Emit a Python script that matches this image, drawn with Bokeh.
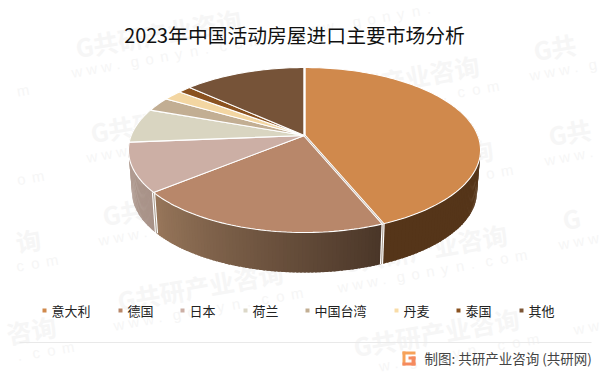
import math
from bokeh.plotting import figure
from bokeh.models import Range1d
from bokeh.core.properties import value
from bokeh.embed import file_html
from bokeh.resources import INLINE

title = "2023年中国活动房屋进口主要市场分析"
categories = ["意大利", "德国", "日本", "荷兰", "中国台湾", "丹麦", "泰国", "其他"]
shares = [43.8, 20.3, 9.6, 6.75, 2.8, 2.05, 1.4, 13.3]
colors = ["#d0894c", "#b8876a", "#ccafa5", "#d9d5c1", "#c2ae93", "#f3d6a2", "#8a5220", "#765338"]
legend_colors = ["#d0894c", "#b8876a", "#ccafa5", "#dcd8c8", "#c2ae93", "#f8dca8", "#8a5220", "#7d5636"]
legend_marker_x = [44, 120, 182, 245, 307, 396, 458, 521]
footer = "制图: 共研产业咨询 (共研网)"
wm_main = "G共研产业咨询"
wm_sub = "www.gonyn.com"
wm_pos = [(-157, 97), (-142, 183), (-128, 267), (-112, 354),
          (75, 47), (90, 132), (102, 215), (117, 300), (122, 394),
          (297, 7), (313, 93), (327, 177), (341, 262), (353, 346),
          (533, 50), (548, 135), (562, 219), (577, 304)]

# perspective projection of the pie's disc
CX, APEX_Y, K, A, B = 304, 135, 0.1758, 79.95, 173.3
FLOOR_Y, FLOOR_F = 177, 0.98

def top(theta):
    s, t = math.sin(theta), -math.cos(theta)
    d = 1 - K * t
    return CX + B * s / d, APEX_Y + A * t / d

def bottom(theta):
    x, y = top(theta)
    return CX + (x - CX) * FLOOR_F, FLOOR_Y + (y - APEX_Y) * FLOOR_F

def lerp(c1, c2, f):
    f = max(0, min(1, f))
    a = [int(c1[i:i+2], 16) for i in (1, 3, 5)]
    b = [int(c2[i:i+2], 16) for i in (1, 3, 5)]
    return "#%02x%02x%02x" % tuple(round(a[i] + (b[i] - a[i]) * f) for i in range(3))

p = figure(width=601, height=374, output_backend="svg", toolbar_location=None,
           x_range=Range1d(0, 601), y_range=Range1d(374, 0), min_border=0,
           x_axis_type=None, y_axis_type=None, outline_line_color=None)
p.grid.visible = False
p.background_fill_color = "white"
p.border_fill_color = "white"

# watermark: only the glyphs that lie fully inside the frame
WM = "#f6f6f6"
ang = math.radians(10)
cs, sn = math.cos(ang), math.sin(ang)
def inside(x, y, m=14):
    return m <= x <= 601 - m and m <= y <= 374 - m
for x, y in wm_pos:
    offs = [0] + [18 + 25.5 * i for i in range(6)]
    keep = [i for i, o in enumerate(offs)
            if inside(x + (o + 12) * cs, y - (o + 12) * sn)]
    if keep:
        i0, i1 = keep[0], keep[-1]
        o = offs[i0]
        p.text([x + o * cs], [y - o * sn], text=[wm_main[i0:i1 + 1]], angle=[ang],
               text_font=value("Noto Sans CJK SC"), text_font_style="bold",
               text_font_size="25px", text_color=WM, text_align="left", text_baseline="middle")
    sx, sy, st = [], [], []
    for i, ch in enumerate(wm_sub):
        px = x - 4 + 15 * i * cs
        py = y + 25 - 15 * i * sn
        if inside(px + 4, py, 8):
            sx.append(px); sy.append(py); st.append(ch)
    if st:
        p.text(sx, sy, text=st, angle=[ang] * len(st), text_font=value("Liberation Sans"),
               text_font_size="15px", text_color=WM, text_align="left", text_baseline="middle")

# cumulative angles
total = sum(shares)
bounds = [0]
for v in shares:
    bounds.append(bounds[-1] + v / total * 2 * math.pi)

def side(a0, a1, c0, c1, n=70):
    xs, ys, cols = [], [], []
    for j in range(n):
        t0 = a0 + (a1 - a0) * j / n
        t1 = min(a1, a0 + (a1 - a0) * (j + 1.6) / n)
        x0, y0 = top(t0); x1, y1 = top(t1)
        x2, y2 = bottom(t1); x3, y3 = bottom(t0)
        xs.append([x0, x1, x2, x3]); ys.append([y0, y1, y2, y3])
        cols.append(lerp(c0, c1, j / (n - 1)))
    p.patches(xs, ys, fill_color=cols, line_color=None)

# side walls: visible arcs of the front slices
side(math.radians(70), bounds[1], "#553519", "#553519")
side(bounds[1], bounds[2], "#4a3628", "#98775b")
side(bounds[2], math.radians(292), "#a89288", "#b5a196")

# separators on the wall
for b in (bounds[1], bounds[2]):
    x0, y0 = top(b); x1, y1 = bottom(b)
    p.line([x0, x1], [y0, y1], line_color="white", line_width=3.2)
    p.line([x0, x1], [y0, y1], line_color="#a89a8c", line_width=1)

# top slices
for i, c in enumerate(colors):
    n = max(3, int((bounds[i+1] - bounds[i]) * 40))
    pts = [top(bounds[i] + (bounds[i+1] - bounds[i]) * j / n) for j in range(n + 1)]
    xs = [CX] + [q[0] for q in pts]
    ys = [APEX_Y] + [q[1] for q in pts]
    p.patch(xs, ys, fill_color=c, line_color="white", line_width=1.1)

x0, y0 = top(bounds[1])
p.line([CX, x0], [APEX_Y, y0], line_color="white", line_width=2.6)
p.line([CX, x0], [APEX_Y, y0], line_color="#a89a8c", line_width=0.7)
x0, y0 = top(0)
p.line([CX, x0], [APEX_Y, y0], line_color="white", line_width=2.4)

# title
p.text([294], [34], text=[title], text_font=value("Noto Sans CJK SC"), text_font_size="19.8px",
       text_color="#111111", text_align="center", text_baseline="middle")

# legend
p.rect(legend_marker_x, [310] * 8, width=4, height=4, fill_color=legend_colors, line_color=None)
p.text([x + 7 for x in legend_marker_x], [310] * 8, text=categories,
       text_font=value("Noto Sans CJK SC"), text_font_size="13px", text_color="#222222",
       text_align="left", text_baseline="middle")

# footer rule, logo, credit
p.line([19, 591], [342, 342], line_color="#e9e9e9", line_width=1)
p.quad(left=[402, 402, 402, 408, 411], right=[415, 405, 415, 415, 415],
       top=[351, 351, 362, 356, 356], bottom=[354, 365, 365, 359, 365],
       fill_color=["#f6a25a", "#f6a25a", "#f58a5e", "#f58a5e", "#f58a5e"], line_color=None)
p.text([424], [357], text=[footer], text_font=value("Noto Sans CJK SC"), text_font_size="13.5px",
       text_color="#444444", text_align="left", text_baseline="middle")

open("out.html", "w").write(file_html(p, INLINE))
